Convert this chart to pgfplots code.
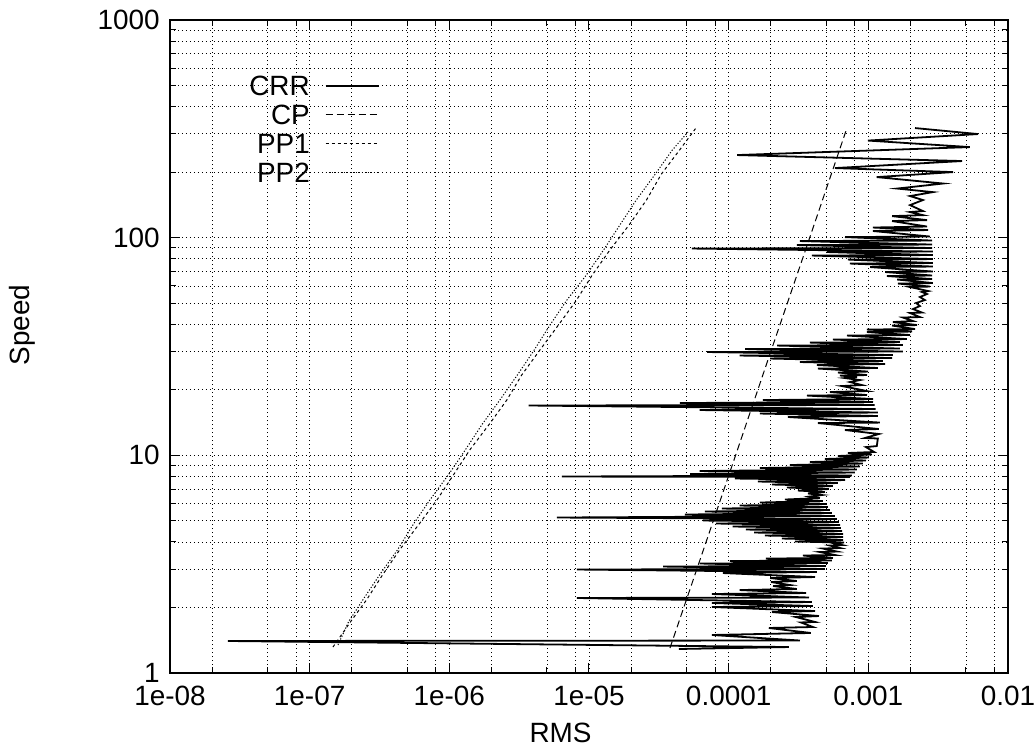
\documentclass[border=0pt]{standalone}
\usepackage{fontspec}
\setmainfont{Liberation Sans}
\usepackage{pgfplots}
\pgfplotsset{compat=1.18}

\pgfplotstableread{
x y
4.4e-5 1.289
2.70e-4 1.316
2.6e-8 1.403
3.24e-4 1.410
7.6e-5 1.495
3.88e-4 1.527
1.94e-4 1.610
4.01e-4 1.627
3.29e-4 1.707
4.15e-4 1.716
3.03e-4 1.808
4.43e-4 1.827
2.04e-4 1.906
4.15e-4 1.926
7.6e-5 2.010
4.01e-4 2.031
7.6e-5 2.097
3.95e-4 2.119
8.2e-6 2.211
3.76e-4 2.222
7.6e-5 2.306
3.58e-4 2.330
1.2e-4 2.405
3.08e-4 2.431
2.08e-4 2.509
2.75e-4 2.536
2.01e-4 2.618
3.08e-4 2.646
1.98e-4 2.731
4.15e-4 2.760
9.1e-5 2.879
4.29e-4 2.910
8.2e-6 2.988
4.89e-4 3.004
3.39e-5 3.084
4.97e-4 3.101
6.2e-5 3.184
5.14e-4 3.201
1.02e-4 3.269
5.49e-4 3.286
1.85e-4 3.356
5.58e-4 3.374
3.40e-4 3.465
5.77e-4 3.483
4.50e-4 3.595
5.96e-4 3.614
4.73e-4 3.731
6.27e-4 3.751
5.31e-4 3.851
6.48e-4 3.872
5.58e-4 3.954
6.70e-4 3.975
2.98e-4 4.018
6.59e-4 4.082
2.41e-4 4.147
6.59e-4 4.213
1.82e-4 4.281
6.59e-4 4.349
1.52e-4 4.419
6.48e-4 4.490
1.33e-4 4.561
6.37e-4 4.634
1.07e-4 4.709
6.27e-4 4.784
8.11e-5 4.860
6.16e-4 4.938
6.55e-5 5.017
5.96e-4 5.097
5.9e-6 5.179
5.77e-4 5.262
4.86e-5 5.346
5.49e-4 5.432
6.76e-5 5.519
5.31e-4 5.607
8.96e-5 5.696
5.14e-4 5.787
1.2e-4 5.880
4.97e-4 5.974
1.675e-4 6.070
4.73e-4 6.167
2.53e-4 6.266
4.50e-4 6.366
3.82e-4 6.468
4.65e-4 6.571
3.70e-4 6.676
4.89e-4 6.783
3.13e-4 6.891
5.22e-4 7.001
2.61e-4 7.114
5.58e-4 7.228
2.04e-4 7.344
6.06e-4 7.461
1.62e-4 7.580
6.81e-4 7.701
1.11e-4 7.825
7.39e-4 7.950
6.4e-6 7.992
7.64e-4 8.077
5.3e-5 8.206
8.02e-4 8.338
6.2e-5 8.471
8.29e-4 8.606
1.675e-4 8.744
8.71e-4 8.883
2.75e-4 9.025
9.15e-4 9.169
3.82e-4 9.316
9.62e-4 9.466
4.89e-4 9.617
1.01e-3 9.770
6.06e-4 9.927
1.06e-3 10.09
7.15e-4 10.25
1.10e-3 10.36
9.62e-4 10.91
1.15e-3 11.03
1.17e-3 11.95
9.46e-4 12.01
1.19e-3 12.53
6.81e-4 13.07
1.19e-3 13.21
4.36e-4 14.07
1.21e-3 14.14
2.66e-4 15.00
1.17e-3 15.16
1.675e-4 15.56
1.17e-3 15.73
6.2e-5 16.15
1.13e-3 16.32
3.7e-6 16.94
1.11e-3 17.03
4.48e-5 17.39
1.08e-3 17.57
1.76e-4 17.95
1.08e-3 18.14
3.64e-4 18.82
9.78e-4 18.92
5.31e-4 19.53
9.78e-4 19.74
6.48e-4 20.81
9.0e-4 21.03
7.39e-4 21.71
8.71e-4 22.17
6.81e-4 22.65
8.29e-4 22.89
6.27e-4 23.26
9.78e-4 23.38
6.06e-4 24.01
9.94e-4 24.26
4.36e-4 25.04
1.17e-3 25.18
4.29e-4 25.99
1.32e-3 26.27
3.24e-4 26.83
1.27e-3 27.11
1.98e-4 27.84
1.48e-3 27.99
1.2e-4 28.74
1.50e-3 28.89
7.0e-5 29.83
1.77e-3 29.98
1.31e-4 30.78
1.68e-3 30.95
2.22e-4 31.94
1.77e-3 32.11
3.82e-4 32.96
1.68e-3 33.14
5.58e-4 34.03
1.89e-3 34.21
7.04e-4 35.51
1.99e-3 35.70
9.78e-4 36.85
2.06e-3 37.04
9.78e-4 37.83
2.16e-3 38.03
1.48e-3 39.47
2.23e-3 39.68
1.50e-3 40.96
2.09e-3 41.39
1.77e-3 42.96
2.34e-3 43.18
1.99e-3 45.05
2.42e-3 45.29
2.09e-3 46.99
2.34e-3 48.51
2.20e-3 50.09
2.54e-3 51.70
2.34e-3 53.37
2.63e-3 55.09
2.42e-3 56.26
2.68e-3 56.86
1.99e-3 59.32
2.76e-3 59.63
1.63e-3 61.54
2.90e-3 61.87
1.61e-3 64.21
2.86e-3 64.55
1.36e-3 66.64
2.86e-3 67.00
1.32e-3 69.52
2.90e-3 69.89
1.03e-3 73.28
2.90e-3 73.67
7.39e-4 76.05
2.90e-3 76.46
7.15e-4 79.33
2.90e-3 79.75
3.95e-4 82.76
2.90e-3 83.20
5.05e-4 85.90
2.90e-3 86.36
5.46e-5 89.13
2.86e-3 89.60
3.08e-4 92.48
2.86e-3 92.97
3.24e-4 96.47
2.86e-3 96.98
6.81e-4 100.6
2.76e-3 101.2
1.08e-3 107.3
2.68e-3 108.4
1.08e-3 111.3
2.63e-3 112.5
1.48e-3 119.2
2.63e-3 120.4
1.48e-3 125.6
2.46e-3 126.9
1.99e-3 131.1
2.46e-3 132.5
1.99e-3 141.1
2.46e-3 148.9
1.99e-3 155.3
2.90e-3 161.9
1.61e-3 168.1
3.43e-3 177.3
1.15e-3 189.8
4.04e-3 200.1
5.77e-4 208.8
4.70e-3 224.9
1.15e-4 239.6
5.34e-3 260.7
9.94e-4 279.3
6.1e-3 299.2
2.16e-3 318.8
}\crr

\pgfplotstableread{
x y
3.80e-5 1.302
6.97e-5 4.082
1.155e-4 10.58
2.02e-4 30.45
3.55e-4 87.7
7.03e-4 318.8
}\cp

\pgfplotstableread{
x y
1.469e-7 1.316
1.95e-7 1.71
2.55e-7 2.164
3.30e-7 2.80
4.40e-7 3.673
6.10e-7 4.85
8.15e-7 6.23
1.08e-6 8.20
1.40e-6 10.58
1.95e-6 14.0
2.58e-6 17.95
3.30e-6 23.4
4.45e-6 30.45
6.10e-6 40.0
8.15e-6 51.70
1.05e-5 67.0
1.41e-5 87.7
1.95e-5 115.0
2.58e-5 148.9
3.30e-5 196.0
4.45e-5 252.6
5.83e-5 318.8
}\ppone

\pgfplotstableread{
x y
1.595e-7 1.345
1.90e-7 1.72
2.40e-7 2.164
3.20e-7 2.85
4.25e-7 3.673
5.50e-7 4.80
7.25e-7 6.23
1.00e-6 8.25
1.30e-6 10.58
1.72e-6 13.9
2.30e-6 17.95
3.10e-6 23.6
4.05e-6 30.45
5.30e-6 40.0
6.95e-6 51.70
9.60e-6 67.5
1.27e-5 87.7
1.66e-5 114.0
2.18e-5 148.9
2.95e-5 194.0
3.95e-5 252.6
5.11e-5 305.6
}\pptwo

\begin{document}
\begin{tikzpicture}
\begin{axis}[
  at={(0,0)}, anchor=south west,
  scale only axis, width=419bp, height=326.5bp,
  xmode=log, ymode=log,
  xmin=1e-8, xmax=1e-2, ymin=1, ymax=1000,
  xtick={1e-8,1e-7,1e-6,1e-5,1e-4,1e-3,1e-2},
  xticklabels={1e-08,1e-07,1e-06,1e-05,0.0001,0.001,0.01},
  minor xtick={2e-8,5e-8,8e-8,2e-7,5e-7,8e-7,2e-6,5e-6,8e-6,2e-5,5e-5,8e-5,2e-4,5e-4,8e-4,2e-3,5e-3,8e-3},
  ytick={1,10,100,1000},
  yticklabels={1,10,100,1000},
  minor ytick={2,3,4,5,6,7,8,9,20,30,40,50,60,70,80,90,200,300,400,500,600,700,800,900},
  grid=both,
  major grid style={black, line width=0.4pt, dash pattern=on 0.5bp off 1.5bp},
  minor grid style={black, line width=0.4pt, dash pattern=on 0.5bp off 1.5bp},
  tick align=inside,
  major tick length=5bp, minor tick length=3bp,
  tick style={black, line width=0.5pt},
  axis line style={line width=0.6pt},
  xticklabel style={font=\fontsize{14}{16}\selectfont, anchor=north, inner sep=0pt, yshift=-6.5bp},
  yticklabel style={font=\fontsize{14}{16}\selectfont, anchor=east, inner sep=0pt, xshift=-5bp},
  xlabel={RMS}, ylabel={Speed},
  xlabel style={font=\fontsize{14}{16}\selectfont, at={(axis description cs:0.466,-0.0919)}, anchor=center},
  ylabel style={font=\fontsize{14}{16}\selectfont, at={(axis description cs:-0.1766,0.533)}, anchor=center},
  legend style={draw=none, fill=none, at={(axis description cs:0.2506,0.9158)}, anchor=north east,
    inner sep=0pt, row sep=0pt, font=\fontsize{14}{16}\selectfont,
    nodes={inner sep=0pt, text height=10bp, text depth=4.5bp},
    /tikz/every odd column/.append style={column sep=7.5bp}},
  legend cell align=right,
  legend plot pos=right,
  legend image code/.code={\draw[#1] (0bp,2bp) -- (26.5bp,2bp);},
]
\addplot[black, line width=0.9pt, sharp plot, no markers] table[x=x,y=y] {\crr};
\addlegendentry{CRR}
\addplot[black, line width=0.5pt, sharp plot, no markers, dash pattern=on 3.5bp off 2bp] table[x=x,y=y] {\cp};
\addlegendentry{CP}
\addplot[black, line width=0.5pt, sharp plot, no markers, dash pattern=on 1.5bp off 1.5bp] table[x=x,y=y] {\ppone};
\addlegendentry{PP1}
\addplot[black, line width=0.5pt, sharp plot, no markers, dash pattern=on 0.6bp off 0.9bp] table[x=x,y=y] {\pptwo};
\addlegendentry{PP2}
\end{axis}
\pgfresetboundingbox
\useasboundingbox (-85bp,-37.5bp) rectangle (433bp,336.5bp);
\end{tikzpicture}
\end{document}
